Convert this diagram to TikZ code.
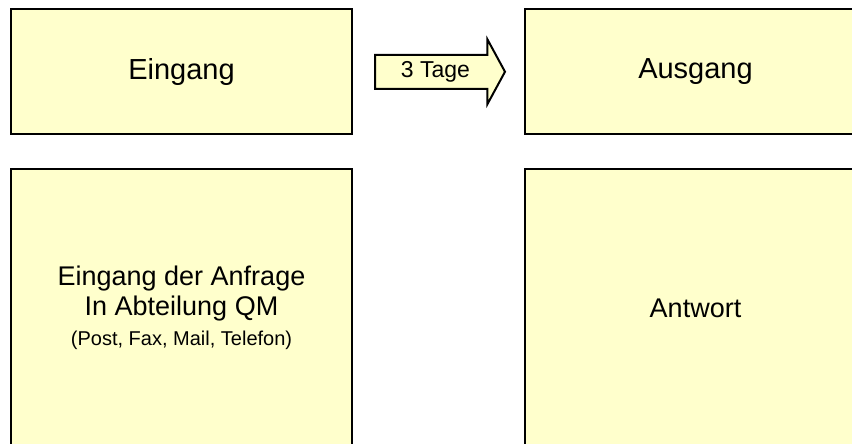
\documentclass[tikz,border=0pt]{standalone}
\usepackage{fontspec}
\setmainfont{Liberation Sans}
\usepackage{tikz}
\usetikzlibrary{positioning,shapes.arrows}
\definecolor{kastenGelb}{HTML}{FFFFCC}
\tikzset{
  kasten/.style={draw=black, line width=2pt, fill=kastenGelb, align=center, minimum width=341pt, inner sep=0pt},
  kastenoben/.style={kasten, minimum height=124.5pt, font=\fontsize{29}{34}\selectfont},
  kastenunten/.style={kasten, minimum height=278pt, font=\fontsize{27}{30}\selectfont},
  pfeil/.style={single arrow, draw=black, line width=2pt, fill=kastenGelb, font=\fontsize{23}{26}\selectfont,
    minimum height=130pt, minimum width=63pt, single arrow head extend=15.5pt, single arrow tip angle=123,
    text height=17pt, text depth=5pt, inner ysep=5pt, inner xsep=4pt},
}

\begin{document}
\begin{tikzpicture}[x=1pt,y=1pt]
\useasboundingbox (0,0) rectangle (852,-444);
\clip (0,0) rectangle (852,-444);

\node[kastenoben] (eingang) at (181.5,-71.75) {Eingang};
\node[kastenoben, right=171pt of eingang] (ausgang) {Ausgang};
\node[kastenunten, below=33pt of eingang] (anfrage) {Eingang der Anfrage\\In Abteilung QM\\{\fontsize{20}{28}\selectfont (Post, Fax, Mail, Telefon)}};
\node[kastenunten, below=33pt of ausgang] (antwort) {Antwort};

\node[pfeil, right=21pt of eingang] (dauer) {3 Tage};
\end{tikzpicture}
\end{document}
